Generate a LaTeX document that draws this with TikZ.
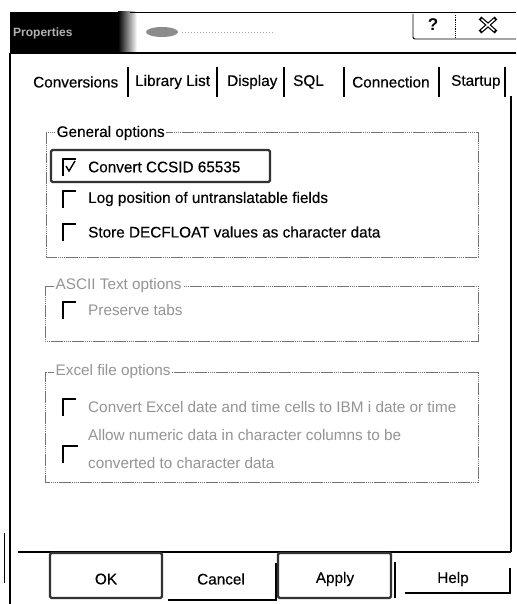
\documentclass[tikz,border=0pt]{standalone}
\usepackage{fontspec}
\setmainfont{Liberation Sans}
\newfontfamily\heavyfont{Liberation Sans}[FakeBold=0.35]
\usetikzlibrary{calc}
\begin{document}
\begin{tikzpicture}[x=1pt,y=-1pt,
  lbl/.style={font=\heavyfont\fontsize{15.3}{17}\selectfont, inner sep=0pt, anchor=west, text=black},
  dis/.style={lbl, font=\rmfamily\fontsize{15.3}{17}\selectfont, text=black!42},
  grp/.style={draw=black!55, line width=0.7pt, dash pattern=on 1.6pt off 0.5pt},
  glabel/.style={lbl, fill=white, inner xsep=1.5pt},
  chk/.style={line width=1.6pt, line cap=rect},
  sep/.style={line width=1.2pt},
  frame/.style={line width=1.8pt},
  btn/.style={draw=black!80, line width=2.2pt, rounded corners=1.5pt},
  btext/.style={font=\heavyfont\fontsize{15.3}{17}\selectfont, inner sep=0pt}]
\useasboundingbox (0,0) rectangle (516,604);
\fill[white] (0,0) rectangle (516,604);

% ---- title bar ----
\fill[black] (10,12) rectangle (118,53);
\shade[left color=black, right color=white] (118,12) rectangle (137,53);
\node[font=\bfseries\fontsize{12}{14}\selectfont, text=black!30, inner sep=0pt, anchor=west] (title) at (13,33) {Properties};
\fill[black!45] (162,32) ellipse (16pt and 5pt);
\draw[black!35, dotted, line width=1pt] (182,33) -- (275,33);
\draw[line width=1pt] (130,13) -- (516,13);
\draw[line width=1.3pt] (10,53) -- (516,53);
\draw[line width=0.9pt, rounded corners=2pt] (413,14) -- (413,39) -- (516,39);
\draw[line width=0.8pt, densely dotted] (455,15) -- (455,38);
\node[font=\bfseries\fontsize{17}{18}\selectfont, inner sep=0pt] (help) at (433,25) {?};
\coordinate (xc) at (488,25);
\draw[line width=4pt] ($(xc)+(-8,-7)$) -- ($(xc)+(8,7)$) ($(xc)+(-8,7)$) -- ($(xc)+(8,-7)$);
\draw[white, line width=1.6pt] ($(xc)+(-6.5,-5.7)$) -- ($(xc)+(6.5,5.7)$) ($(xc)+(-6.5,5.7)$) -- ($(xc)+(6.5,-5.7)$);

% ---- window frame ----
\draw[frame] (10,53) -- (10,604);
\draw[line width=1pt] (4,533) -- (4,583);
\draw[line width=1.4pt] (511,96) -- (511,552);
\draw[line width=1.4pt] (18,552) -- (511,552);

% ---- tabs ----
\node[lbl] (t1) at (33,82) {Conversions};
\node[lbl] (t2) at (135,82) {Library List};
\node[lbl] (t3) at (227,82) {Display};
\node[lbl] (t4) at (293,82) {SQL};
\node[lbl] (t5) at (352,82) {Connection};
\node[lbl] (t6) at (451,82) {Startup};
\foreach \sx in {128,217,284,344,439,505} \draw[sep] (\sx,67) -- (\sx,97);

% ---- General options ----
\draw[grp] (46,132) rectangle (478,257);
\node[glabel] (g1) at (55,133) {General options};
\draw[btn] (51,150) rectangle (270,182);
\draw[chk] (63,175) |- (75,159);
\draw[line width=1.4pt] (66,166) -- (69,171) -- (75,161);
\node[lbl] (c1) at (88,167) {Convert CCSID 65535};
\draw[chk] (63,207) |- (75,191);
\node[lbl] (c2) at (88,199) {Log position of untranslatable fields};
\draw[chk] (63,240) |- (75,224);
\node[lbl] (c3) at (88,232) {Store DECFLOAT values as character data};

% ---- ASCII Text options ----
\draw[grp] (45,286) rectangle (478,341);
\node[glabel, dis, fill=white, inner xsep=1.5pt] (g2) at (54,286) {ASCII Text options};
\draw[chk] (63,318) |- (75,302);
\node[dis] (c4) at (88,310) {Preserve tabs};

% ---- Excel file options ----
\draw[grp] (45,372) rectangle (478,482);
\node[glabel, dis, fill=white, inner xsep=1.5pt] (g3) at (54,372) {Excel file options};
\draw[chk] (63,415) |- (75,399);
\node[dis] (c5) at (88,407) {Convert Excel date and time cells to IBM i date or time};
\draw[chk] (63,462) |- (77,446);
\node[dis] (c6) at (88,435) {Allow numeric data in character columns to be};
\node[dis] (c7) at (88,463) {converted to character data};

% ---- buttons ----
\draw[btn] (50,553) rectangle (162,598);
\node[btext] (ok) at (106,579) {OK};
\draw[line width=1.2pt] (168,600) -- (276,600) -- (276,563);
\node[btext] (cancel) at (221,579) {Cancel};
\draw[btn] (278,553) rectangle (391,598);
\node[btext] (apply) at (335,579) {Apply};
\draw[line width=1.2pt] (395,562) -- (395,598);
\draw[line width=1.2pt] (405,593) -- (510,593) -- (510,568);
\node[btext] (helpb) at (453,579) {Help};
\end{tikzpicture}
\end{document}
